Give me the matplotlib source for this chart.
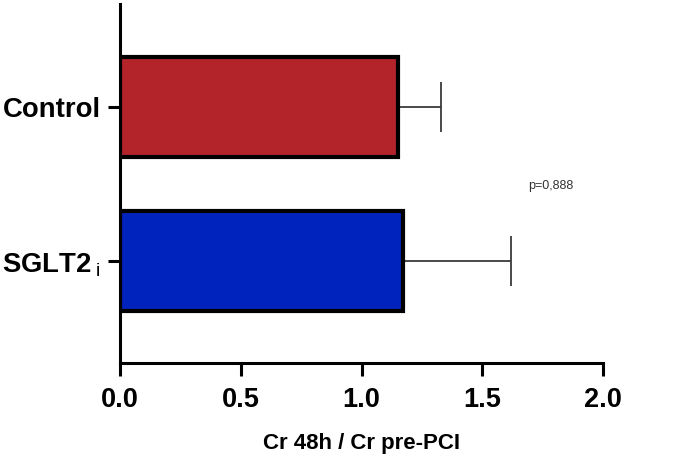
import matplotlib.pyplot as plt
import numpy as np

plt.rcParams['font.family'] = ['Liberation Sans', 'DejaVu Sans']
plt.rcParams['mathtext.fontset'] = 'custom'
plt.rcParams['mathtext.rm'] = 'Liberation Sans'

# Dados: grupos, média da razão e erro superior
grupos = ['SGLT2$\\,_{\\mathrm{i}}$', 'Control']
medias = [1.172, 1.151]
erros = [0.447, 0.178]
cores = ['#0023BE', '#B2242A']
p_texto = 'p=0,888'

fig = plt.figure(figsize=(6.85, 4.59), dpi=100)
ax = fig.add_axes([0.1752, 0.2092, 0.7051, 0.7821])

pos = np.arange(len(grupos))
ax.errorbar(medias, pos, xerr=[np.zeros(len(erros)), erros], fmt='none',
            ecolor='#3a3a3a', elinewidth=1.3, capsize=18, capthick=1.3, zorder=1)
ax.barh(pos, medias, height=0.65, color=cores, edgecolor='black', linewidth=3, zorder=2)

ax.text(1.785, 0.49, p_texto, fontsize=9, color='#333333', ha='center', va='center')

ax.set_xlim(0, 2.0)
ax.set_ylim(-0.66, 1.67)
ax.set_xticks([0.0, 0.5, 1.0, 1.5, 2.0])
ax.set_xticklabels(['0.0', '0.5', '1.0', '1.5', '2.0'], fontsize=19.5, fontweight='bold')
ax.set_yticks(pos)
ax.set_yticklabels(grupos, fontsize=19.8, fontweight='bold')
ax.set_xlabel('Cr 48h / Cr pre-PCI', fontsize=16, fontweight='bold', labelpad=15)

for s in ['top', 'right']:
    ax.spines[s].set_visible(False)
for s in ['left', 'bottom']:
    ax.spines[s].set_linewidth(2.2)
ax.tick_params(axis='x', width=2.2, length=9, pad=8)
ax.tick_params(axis='y', width=2.2, length=9, pad=5)

fig.savefig('out.png', dpi=100)
